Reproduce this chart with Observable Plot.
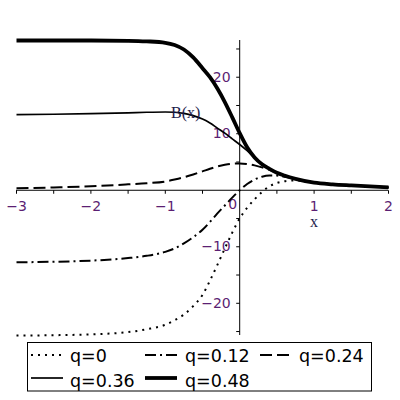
<!DOCTYPE html>
<html>
<head>
<meta charset="utf-8">
<script src="https://cdn.jsdelivr.net/npm/d3@7"></script>
<script src="https://cdn.jsdelivr.net/npm/@observablehq/plot@0.6"></script>
<style>
  html, body { margin: 0; padding: 0; background: #fff; }
  #chart svg { display: block; }
</style>
</head>
<body>
<div id="chart"></div>
<script>
// ---- data ----
const xs   = [-3, -2.5, -2, -1.5, -1.25, -1, -0.875, -0.75, -0.625, -0.5, -0.4, -0.3, -0.2, -0.1, 0, 0.1, 0.2, 0.3, 0.4, 0.5, 0.6, 0.75, 1, 1.25, 1.5, 2];
const q0   = [-25.7, -25.65, -25.5, -25.1, -24.6, -23.8, -23.0, -22.0, -20.5, -18.5, -16.0, -13.2, -10.3, -7.5, -5.0, -3.1, -1.6, -0.3, 0.7, 1.3, 1.6, 1.75, 1.3, 1.05, 0.85, 0.5];
const q012 = [-12.75, -12.65, -12.45, -12.0, -11.6, -10.9, -10.3, -9.4, -8.3, -7.0, -5.6, -4.1, -2.7, -1.3, 0.0, 1.1, 1.9, 2.4, 2.6, 2.6, 2.4, 2.0, 1.35, 1.05, 0.85, 0.5];
const q024 = [0.35, 0.5, 0.7, 1.05, 1.25, 1.55, 1.9, 2.3, 2.8, 3.35, 3.8, 4.2, 4.5, 4.7, 4.75, 4.65, 4.4, 4.05, 3.6, 3.1, 2.6, 2.0, 1.35, 1.05, 0.85, 0.5];
const q036 = [13.4, 13.45, 13.55, 13.7, 13.8, 13.85, 13.8, 13.6, 13.2, 12.6, 11.9, 11.0, 10.1, 9.1, 8.1, 7.0, 5.8, 4.7, 3.8, 3.1, 2.6, 2.0, 1.35, 1.05, 0.85, 0.5];
const q048 = [26.5, 26.5, 26.5, 26.45, 26.35, 26.1, 25.7, 24.9, 23.5, 21.6, 20.0, 18.0, 15.6, 12.9, 10.1, 7.6, 5.8, 4.6, 3.8, 3.1, 2.6, 2.0, 1.35, 1.05, 0.85, 0.5];
const seriesNames = ["q=0", "q=0.12", "q=0.24", "q=0.36", "q=0.48"];
const seriesValues = [q0, q012, q024, q036, q048];
const xTickValues = [-3, -2.5, -2, -1.5, -1, -0.5, 0.5, 1, 1.5, 2];
const xTickLabels = [-3, -2, -1, 1, 2];
const xZeroLabel = [0];
const yTickValues = [-25, -20, -15, -10, -5, 5, 10, 15, 20, 25];
const yTickLabels = [-20, -10, 10, 20];
const yLabel = "B(x)";
const xLabel = "x";

// ---- styles per series ----
const styles = [
  {dash: "2,5", width: 2},
  {dash: "11,4,2,4", width: 2},
  {dash: "12,5", width: 2},
  {dash: null, width: 1.7},
  {dash: null, width: 3.8}
];

const rows = [];
seriesNames.forEach((name, s) => {
  xs.forEach((x, i) => rows.push({series: name, x, y: seriesValues[s][i]}));
});

const fmt = v => (v < 0 ? "\u2212" : "") + Math.abs(v);
const labelColor = "#5b1f73";
const tickFont = "DejaVu Sans, sans-serif";

const tickDown = {draw(ctx) { ctx.moveTo(0, 0); ctx.lineTo(0, 3.5); }};
const tickLeft = {draw(ctx) { ctx.moveTo(0, 0); ctx.lineTo(-3.5, 0); }};

const lineMarks = seriesNames.map((name, s) =>
  Plot.line(rows.filter(d => d.series === name), {
    x: "x", y: "y", curve: "monotone-x",
    stroke: "black", strokeWidth: styles[s].width,
    strokeDasharray: styles[s].dash, strokeLinecap: "butt"
  })
);

const plot = Plot.plot({
  width: 400,
  height: 340,
  marginTop: 40,
  marginBottom: 5,
  marginLeft: 16,
  marginRight: 12,
  style: {background: "white", overflow: "visible"},
  x: {domain: [-3, 2], axis: null},
  y: {domain: [-25.7, 26.5], axis: null},
  marks: [
    Plot.ruleY([0], {stroke: "black", strokeWidth: 1}),
    Plot.ruleX([0], {stroke: "black", strokeWidth: 1}),
    Plot.dot(xTickValues, {x: d => d, y: 0, symbol: tickDown, fill: "none", stroke: "black", strokeWidth: 1}),
    Plot.dot(yTickValues, {x: 0, y: d => d, symbol: tickLeft, fill: "none", stroke: "black", strokeWidth: 1}),
    Plot.text(xTickLabels, {x: d => d, y: 0, text: d => fmt(d), dy: 16,
      fill: labelColor, fontSize: 14, fontFamily: tickFont}),
    Plot.text(xZeroLabel, {x: d => d, y: 0, text: d => fmt(d), dy: 14, dx: -7,
      fill: labelColor, fontSize: 14, fontFamily: tickFont}),
    Plot.text(yTickLabels, {x: 0, y: d => d, text: d => fmt(d), dx: -9, textAnchor: "end",
      fill: labelColor, fontSize: 14, fontFamily: tickFont}),
    ...lineMarks,
    Plot.text([yLabel], {x: 0, y: 0, text: d => d, dx: -54, dy: -77,
      fill: "#1c1c4a", fontSize: 16, fontFamily: "Liberation Serif, serif"}),
    Plot.text([xLabel], {x: 1, y: 0, text: d => d, dy: 32,
      fill: "#1c1c4a", fontSize: 16, fontFamily: "Liberation Serif, serif"})
  ]
});
document.getElementById("chart").appendChild(plot);

// ---- legend below the plot ----
const legend = d3.create("svg").attr("width", 400).attr("height", 60)
  .style("display", "block").style("background", "white");
legend.append("rect").attr("x", 27.5).attr("y", 2.5).attr("width", 344).attr("height", 48.5)
  .attr("fill", "none").attr("stroke", "black").attr("stroke-width", 1);
const colLine = [31, 145, 260];
const colText = [70, 185, 299];
const rowLine = [15, 38];
const rowText = [22, 46.5];
seriesNames.forEach((name, s) => {
  const r = Math.floor(s / 3), c = s % 3;
  legend.append("line")
    .attr("x1", colLine[c]).attr("x2", colLine[c] + 32)
    .attr("y1", rowLine[r]).attr("y2", rowLine[r])
    .attr("stroke", "black").attr("stroke-width", styles[s].width)
    .attr("stroke-dasharray", styles[s].dash);
  legend.append("text")
    .attr("x", colText[c]).attr("y", rowText[r])
    .attr("font-family", "DejaVu Sans, sans-serif").attr("font-size", 17.5)
    .attr("fill", "black").text(name);
});
document.getElementById("chart").appendChild(legend.node());
</script>
</body>
</html>
